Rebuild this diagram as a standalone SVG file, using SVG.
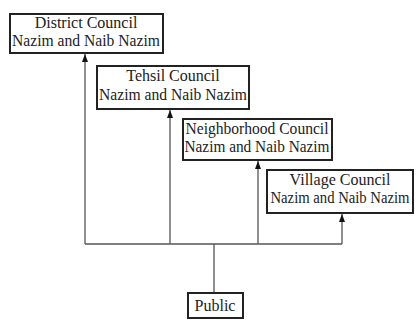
<svg xmlns="http://www.w3.org/2000/svg" width="416" height="320" viewBox="0 0 416 320">
<defs>
<marker id="ah" markerWidth="8" markerHeight="6" refX="8" refY="3" orient="auto" markerUnits="userSpaceOnUse" viewBox="0 0 8 6">
<path d="M0,0 L8,3 L0,6 Z" fill="#111"/>
</marker>
<style>
.box{fill:#fff;stroke:#222;stroke-width:2}
.t{font-family:"Liberation Serif","Times New Roman",serif;font-size:16px;fill:#222;text-anchor:middle}
.c{fill:none;stroke:#555;stroke-width:1.3}
</style>
</defs>
<rect width="416" height="320" fill="#fff"/>
<g id="connectors">
<path class="c" d="M214,293 V244"/>
<path class="c" d="M85,244 H342"/>
<path class="c" d="M85,244 V54" marker-end="url(#ah)"/>
<path class="c" d="M170,244 V110" marker-end="url(#ah)"/>
<path class="c" d="M258,244 V161" marker-end="url(#ah)"/>
<path class="c" d="M342,244 V214" marker-end="url(#ah)"/>
</g>
<g id="district">
<rect class="box" x="10" y="14" width="153" height="39"/>
<text class="t" x="86" y="28">District Council</text>
<text class="t" x="86" y="46" textLength="148" lengthAdjust="spacingAndGlyphs">Nazim and Naib Nazim</text>
</g>
<g id="tehsil">
<rect class="box" x="97" y="66" width="152" height="43"/>
<text class="t" x="173" y="81">Tehsil Council</text>
<text class="t" x="173" y="100" textLength="148" lengthAdjust="spacingAndGlyphs">Nazim and Naib Nazim</text>
</g>
<g id="neighborhood">
<rect class="box" x="183" y="119" width="149" height="41"/>
<text class="t" x="257" y="134" textLength="143" lengthAdjust="spacingAndGlyphs">Neighborhood Council</text>
<text class="t" x="257" y="152" textLength="145" lengthAdjust="spacingAndGlyphs">Nazim and Naib Nazim</text>
</g>
<g id="village">
<rect class="box" x="267" y="170" width="146" height="43"/>
<text class="t" x="340" y="185">Village Council</text>
<text class="t" x="340" y="203" textLength="139" lengthAdjust="spacingAndGlyphs">Nazim and Naib Nazim</text>
</g>
<g id="public">
<rect class="box" x="188" y="293" width="55" height="25"/>
<text class="t" x="215" y="311">Public</text>
</g>
</svg>
